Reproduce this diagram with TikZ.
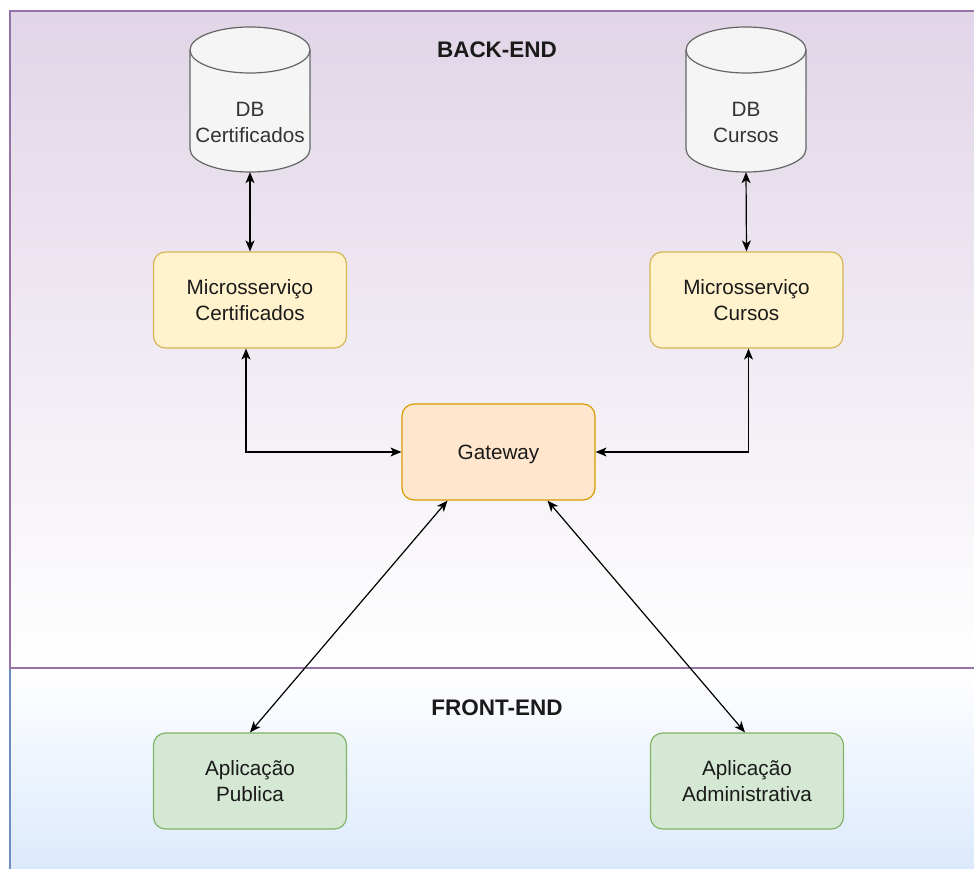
\documentclass[tikz,border=0pt]{standalone}
\usepackage{fontspec}
\setmainfont{Liberation Sans}
\usetikzlibrary{arrows.meta}

\definecolor{backfill}{HTML}{E1D5E7}
\definecolor{backline}{HTML}{9673A6}
\definecolor{frontfill}{HTML}{DAE8FC}
\definecolor{frontline}{HTML}{6C8EBF}
\definecolor{svcfill}{HTML}{FFF2CC}
\definecolor{svcline}{HTML}{D6B656}
\definecolor{gwfill}{HTML}{FFE6CC}
\definecolor{gwline}{HTML}{D79B00}
\definecolor{appfill}{HTML}{D5E8D4}
\definecolor{appline}{HTML}{82B366}
\definecolor{dbfill}{HTML}{F5F5F5}
\definecolor{dbline}{HTML}{666666}
\definecolor{dbtextcol}{HTML}{333333}
\definecolor{boxtext}{HTML}{1A1A1A}

\tikzset{
  basebox/.style={rectangle, rounded corners=12pt, line width=1.2pt,
    minimum width=193pt, minimum height=96pt, align=center, text=boxtext,
    font=\fontsize{20.7}{26}\selectfont},
  svcbox/.style={basebox, fill=svcfill, draw=svcline},
  gwbox/.style={basebox, fill=gwfill, draw=gwline, text height=15pt, text depth=0pt},
  appbox/.style={basebox, fill=appfill, draw=appline},
  dbarea/.style={rectangle, minimum width=120pt, minimum height=145pt, inner sep=0pt},
  dbtext/.style={align=center, text=dbtextcol, font=\fontsize{20.7}{26}\selectfont},
  dbbody/.style={fill=dbfill, draw=dbline, line width=1.2pt},
  layerlabel/.style={font=\fontsize{22.5}{26}\bfseries\selectfont, text=boxtext},
  biarrow/.style={line width=1.2pt, {Stealth[length=11pt,width=9pt,inset=3pt]}-{Stealth[length=11pt,width=9pt,inset=3pt]}}
}

\begin{document}
\begin{tikzpicture}[x=1pt,y=-1pt]
  \useasboundingbox (0,0) rectangle (974,869);
  \clip (0,0) rectangle (974,869);
  \fill[white] (0,0) rectangle (974,869);

  % front-end layer
  \shade[top color=white, bottom color=frontfill] (10,668) rectangle (990,880);
  \draw[frontline, line width=1.2pt] (990,880) -- (10,880) -- (10,668);
  % back-end layer
  \shade[top color=backfill, bottom color=white] (10,11) rectangle (990,668);
  \draw[backline, line width=1.2pt] (10,11) rectangle (990,668);

  \node[layerlabel] (backlbl) at (497,50) {BACK-END};
  \node[layerlabel] (frontlbl) at (497,708) {FRONT-END};

  % databases drawn as cylinders
  \foreach \cx/\nm in {250/dbcert, 746/dbcur}{
    \draw[dbbody] (\cx-60,50) -- (\cx-60,149)
      arc[start angle=180, end angle=360, x radius=60pt, y radius=23pt]
      -- (\cx+60,50)
      arc[start angle=0, end angle=180, x radius=60pt, y radius=23pt] -- cycle;
    \draw[dbline, line width=1.2pt] (\cx-60,50)
      arc[start angle=180, end angle=360, x radius=60pt, y radius=23pt];
    \node[dbarea] (\nm) at (\cx,99.5) {};
  }
  \node[dbtext] (dbcertlbl) at (250,122) {DB\\Certificados};
  \node[dbtext] (dbcurlbl) at (746,122) {DB\\Cursos};

  % services
  \node[svcbox] (mscert) at (250,300) {Microsserviço\\Certificados};
  \node[svcbox] (mscur) at (746.5,300) {Microsserviço\\Cursos};
  \node[gwbox] (gw) at (498.5,452) {Gateway};
  \node[appbox] (apppub) at (250,781) {Aplicação\\Publica};
  \node[appbox] (appadm) at (747,781) {Aplicação\\Administrativa};

  % connectors
  \draw[biarrow] (dbcert.south) -- (mscert.north);
  \draw[biarrow] (dbcur.south) -- (mscur.north);
  \draw[biarrow] ([xshift=-4pt]mscert.south) |- (gw.west);
  \draw[biarrow] ([xshift=2pt]mscur.south) |- (gw.east);
  \draw[biarrow] ([xshift=-51pt]gw.south) -- (apppub.north);
  \draw[biarrow] ([xshift=49pt]gw.south) -- ([xshift=-2pt]appadm.north);
\end{tikzpicture}
\end{document}
